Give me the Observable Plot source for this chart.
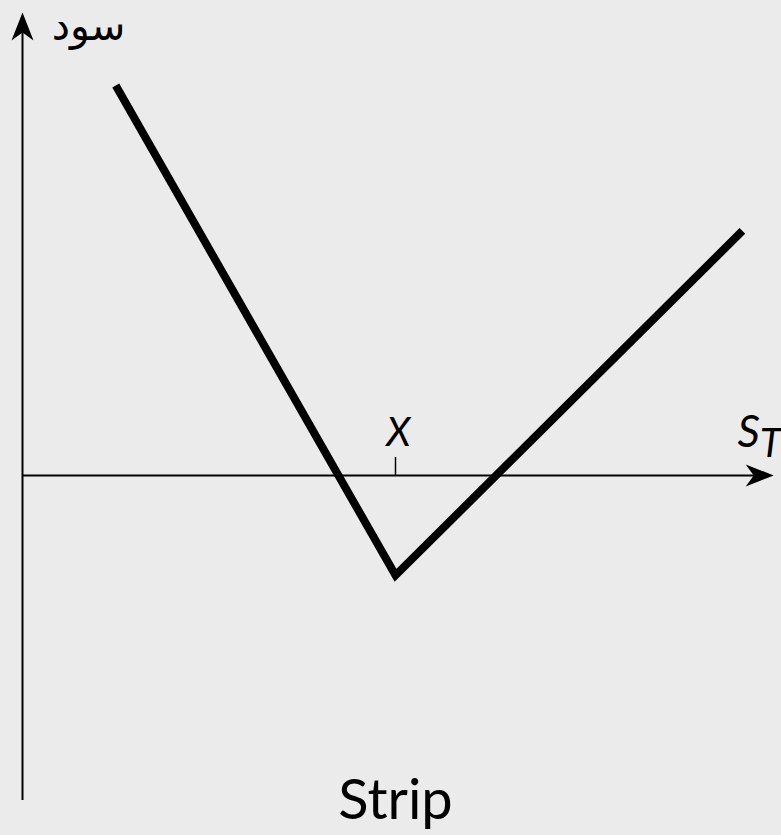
<!DOCTYPE html>
<html>
<head>
<meta charset="utf-8">
<script src="https://cdn.jsdelivr.net/npm/d3@7"></script>
<script src="https://cdn.jsdelivr.net/npm/@observablehq/plot@0.6"></script>
<style>
  html, body { margin: 0; padding: 0; background: #ebebeb; }
  #chart svg { display: block; background: #ebebeb; }
</style>
</head>
<body>
<div id="chart"></div>
<script>
// Payoff of a Strip (1 call + 2 puts)
const spotPrices = [12.5, 50, 96.5];
const profits = [52.3, -13.4, 32.8];
const strike = 50;
const strikeLabel = "X";
const xAxisLabel = "S";
const xAxisSub = "T";
const yAxisLabel = "سود";
const chartTitle = "Strip";
const xExtent = [0, 100.7];
const yExtent = [-43.6, 62.1];

const payoff = spotPrices.map((s, i) => ({s, p: profits[i]}));

// Filled "stealth" arrowhead, tip at origin pointing up
const stealth = {
  draw(context) {
    context.moveTo(0, 0);
    context.lineTo(11, 28);
    context.lineTo(0, 20);
    context.lineTo(-11, 28);
    context.closePath();
  }
};

const font = "Lato, 'Open Sans', sans-serif";

const chart = Plot.plot({
  width: 781,
  height: 835,
  marginTop: 12,
  marginBottom: 35,
  marginLeft: 22,
  marginRight: 13,
  style: {background: "#ebebeb", fontFamily: font},
  x: {domain: [0, 100], axis: null},
  y: {domain: yExtent, axis: null},
  marks: [
    // axes
    Plot.ruleY([0], {x1: xExtent[0], x2: xExtent[1] - 2.5, stroke: "black", strokeWidth: 2}),
    Plot.ruleX([0], {y1: yExtent[0], y2: yExtent[1] - 2.5, stroke: "black", strokeWidth: 2}),
    Plot.dot([{x: xExtent[1], y: 0}], {x: "x", y: "y", symbol: stealth, fill: "black", stroke: null, rotate: 90}),
    Plot.dot([{x: 0, y: yExtent[1]}], {x: "x", y: "y", symbol: stealth, fill: "black", stroke: null, rotate: 0}),
    // strike tick
    Plot.ruleX([strike], {y1: 0, y2: 2.4, stroke: "black", strokeWidth: 1.5}),
    // payoff line
    Plot.line(payoff, {x: "s", y: "p", stroke: "black", strokeWidth: 8, strokeLinejoin: "miter", strokeLinecap: "butt", strokeMiterlimit: 10}),
    // labels
    Plot.text([strikeLabel], {x: strike, y: 0, dx: 3, dy: -29, lineAnchor: "bottom", fontSize: 40, fontStyle: "italic", fill: "black", fontFamily: font}),
    Plot.text([xAxisLabel], {x: xExtent[1], y: 0, dx: -25, dy: -28, lineAnchor: "bottom", fontSize: 44, fontStyle: "italic", fill: "black", fontFamily: font}),
    Plot.text([xAxisSub], {x: xExtent[1], y: 0, dx: -3, dy: -18, lineAnchor: "bottom", fontSize: 40, fontStyle: "italic", fill: "black", fontFamily: font}),
    Plot.text([yAxisLabel], {x: 8.85, y: 58.35, lineAnchor: "bottom", fontSize: 41, fill: "black", fontFamily: "'DejaVu Sans', sans-serif"}),
    Plot.text([chartTitle], {x: strike, frameAnchor: "bottom", dy: 18, lineAnchor: "bottom", fontSize: 56, fill: "black", fontFamily: font})
  ]
});

document.getElementById("chart").appendChild(chart);
</script>
</body>
</html>
